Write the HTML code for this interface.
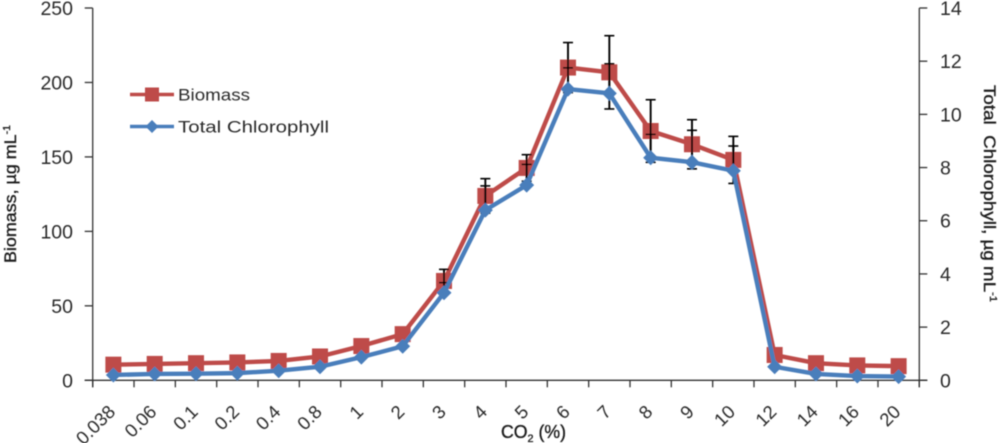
<!DOCTYPE html>
<html>
<head>
<meta charset="utf-8">
<style>
html,body{margin:0;padding:0;background:#fff;width:1000px;height:443px;overflow:hidden}
svg{display:block}
text{font-family:"Liberation Sans",sans-serif;fill:#2b2b2b}
</style>
</head>
<body>
<svg id="chart" width="1000" height="443" viewBox="0 0 1000 443" xmlns="http://www.w3.org/2000/svg">
<defs><filter id="soft" x="-5%" y="-5%" width="110%" height="110%"><feGaussianBlur stdDeviation="0.45"/></filter></defs>
<g id="root" filter="url(#soft)"></g>
</svg>
<script>
const categories = ["0.038","0.06","0.1","0.2","0.4","0.8","1","2","3","4","5","6","7","8","9","10","12","14","16","20"];
const biomass = [10.5,11,11.5,12,13,16,23,31,66.7,123.8,142.6,210,206.8,167.4,158.5,148,17,11.5,10,9.5];
const chlorophyll = [0.2,0.24,0.25,0.27,0.36,0.51,0.87,1.28,3.29,6.4,7.34,10.95,10.79,8.37,8.2,7.88,0.51,0.24,0.16,0.14];
const biomassError = [0,0,0,0,0,0,0,0,7.8,11.6,8.9,16.8,24.6,21,16.5,15.8,0,0,0,0];
const chlorophyllErrorPlus = [0,0,0,0,0,0,0,0,0.38,0.91,0.78,0.8,1.11,0.88,1.2,0.93,0,0,0,0];
const leftTicks = [0,50,100,150,200,250];
const rightTicks = [0,2,4,6,8,10,12,14];

const NS = "http://www.w3.org/2000/svg";
const root = document.getElementById("root");
const X0 = 92.7, X1 = 919.3, Y0 = 380.3, Y1 = 8;
const RED = "#be4b48", BLUE = "#4a7ebb", AXIS = "#333";
const band = (X1 - X0) / categories.length;
const xPos = i => X0 + band * (i + 0.5);
const yLeft = v => Y0 - v * (Y0 - Y1) / 250;
const yRight = v => Y0 - v * (Y0 - Y1) / 14;

function make(tag, attrs, parent) {
  const el = document.createElementNS(NS, tag);
  for (const k in attrs) el.setAttribute(k, attrs[k]);
  (parent || root).appendChild(el);
  return el;
}
function seg(x1, y1, x2, y2, color, w, parent) {
  return make("line", {x1: x1, y1: y1, x2: x2, y2: y2, stroke: color, "stroke-width": w}, parent);
}
function label(str, x, y, size, anchor, parent) {
  const t = make("text", {x: x, y: y, "font-size": size, "text-anchor": anchor}, parent);
  t.textContent = str;
  return t;
}
function square(cx, cy, s, parent) {
  return make("rect", {x: cx - s / 2, y: cy - s / 2, width: s, height: s, fill: RED}, parent);
}
function diamond(cx, cy, r, parent) {
  return make("polygon", {points: [cx, cy - r, cx + r, cy, cx, cy + r, cx - r, cy].join(" "), fill: BLUE}, parent);
}

/* axes */
const axes = make("g", {});


const leftAxis = seg(X0, Y1, X0, Y0 + 7, AXIS, 1.3, axes);


const rightAxis = seg(X1, Y1, X1, Y0 + 7, AXIS, 1.3, axes);


const xAxis = seg(X0 - 8, Y0, X1 + 8, Y0, AXIS, 1.3, axes);



leftTicks.forEach(v => {
  seg(X0 - 8, yLeft(v), X0, yLeft(v), AXIS, 1.3, axes);
  const t = label(String(v), 73, yLeft(v) + 7, 19.5, "end", axes);
  
  
});
rightTicks.forEach(v => {
  seg(X1, yRight(v), X1 + 8, yRight(v), AXIS, 1.3, axes);
  const t = label(String(v), 940, yRight(v) + 7, 19.5, "start", axes);
  
  
});
categories.forEach((c, i) => {
  seg(X0 + band * i, Y0, X0 + band * i, Y0 + 7, AXIS, 1.3, axes);
  const ex = xPos(i) + 3, ey = 413;
  const t = label(c, ex, ey, 18.5, "end", axes);
  t.setAttribute("transform", "rotate(-45 " + ex + " " + ey + ")");
  
  
});
seg(X1, Y0, X1, Y0 + 7, AXIS, 1.3, axes);

/* series */
function polyline(values, yFn, color, parent) {
  return make("polyline", {
    points: values.map((v, i) => xPos(i) + "," + yFn(v)).join(" "),
    fill: "none", stroke: color, "stroke-width": 4.4, "stroke-linejoin": "round"
  }, parent);
}
function errorBar(i, top, bottom, parent) {
  const x = xPos(i);
  const g = make("g", {}, parent);
  
  
  seg(x, top, x, bottom, "#000", 1.9, g);
  seg(x - 5, top, x + 5, top, "#000", 1.6, g);
  seg(x - 5, bottom, x + 5, bottom, "#000", 1.6, g);
}

const redSeries = make("g", {});


polyline(biomass, yLeft, RED, redSeries);
biomass.forEach((v, i) => {
  const m = square(xPos(i), yLeft(v), 16, redSeries);
  
  
});
biomass.forEach((v, i) => {
  if (biomassError[i] > 0) errorBar(i, yLeft(v + biomassError[i]), yLeft(v - biomassError[i]), redSeries);
});

const blueSeries = make("g", {});


chlorophyll.forEach((v, i) => {
  if (chlorophyllErrorPlus[i] > 0) errorBar(i, yRight(v + chlorophyllErrorPlus[i]), yRight(v), blueSeries);
});
polyline(chlorophyll, yRight, BLUE, blueSeries);
chlorophyll.forEach((v, i) => {
  const m = diamond(xPos(i), yRight(v), 7.5, blueSeries);
  
  
});

/* legend */
const legend = make("g", {});


const lg1 = make("g", {}, legend);


seg(130, 94.5, 174, 94.5, RED, 3.6, lg1);
square(152, 94.5, 14, lg1);
const lt1 = label("Biomass", 178, 100.5, 17, "start", lg1);
lt1.setAttribute("textLength", "72");
lt1.setAttribute("lengthAdjust", "spacingAndGlyphs");
const lg2 = make("g", {}, legend);


seg(130, 126.5, 174, 126.5, BLUE, 3.6, lg2);
diamond(152, 126.5, 6.5, lg2);
const lt2 = label("Total Chlorophyll", 178, 132.5, 17, "start", lg2);
lt2.setAttribute("textLength", "151");
lt2.setAttribute("lengthAdjust", "spacingAndGlyphs");

/* axis titles */
function title(parts, x, y, size, rot, len, name) {
  const t = make("text", {
    x: x, y: y, "font-size": size,
    transform: "rotate(" + rot + " " + x + " " + y + ")",
    textLength: len, lengthAdjust: "spacingAndGlyphs",
    style: "fill:#1c1c1c;stroke:#1c1c1c;stroke-width:0.35"
  });
  parts.forEach(p => {
    const s = make("tspan", p.dy ? {dy: p.dy, "font-size": p.size || size} : {"font-size": p.size || size}, t);
    s.textContent = p.text;
  });
  
  
  return t;
}
title([{text: "Biomass, µg mL"}, {text: "-1", dy: -6, size: 10}], 16, 263, 17, -90, 138, "left-y-axis-title");
title([{text: "Total\u00A0\u00A0Chlorophyll, µg mL"}, {text: "-1", dy: -6, size: 10}], 984, 85, 17, 90, 217, "right-y-axis-title");
title([{text: "CO"}, {text: "2", dy: 4, size: 11}, {text: " (%)", dy: -4}], 501, 438, 18, 0, 65, "x-axis-title");
</script>
</body>
</html>
